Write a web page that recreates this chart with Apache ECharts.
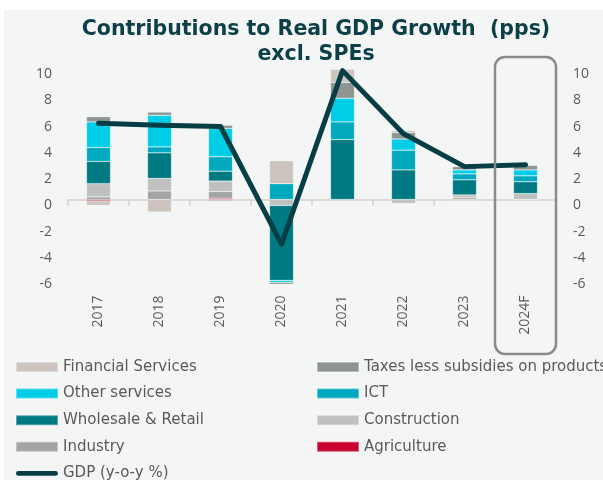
<!DOCTYPE html>
<html>
<head>
<meta charset="utf-8">
<script src="https://cdn.jsdelivr.net/npm/echarts@6/dist/echarts.min.js"></script>
<style>
  html, body { margin: 0; padding: 0; background: #ffffff; }
  #chart { width: 603px; height: 480px; }
</style>
</head>
<body>
<div id="chart"></div>
<script>
// Contributions to real GDP growth by sector, percentage points
const categories = ['2017', '2018', '2019', '2020', '2021', '2022', '2023', '2024F'];

const agriculture     = [-0.1, 0,     0.1,   0,     0,    0,     0,    0];
const industry        = [0.2,  0.65,  0.5,   0,     0,    0,     0.15, 0];
const construction    = [1.0,  0.95,  0.8,  -0.45,  0,   -0.3,   0.2,  0.45];
const wholesaleRetail = [1.7,  1.95,  0.75, -5.7,   4.55, 2.25,  1.15, 0.9];
const ict             = [1.05, 0.45,  1.1,   1.2,   1.35, 1.5,   0.45, 0.45];
const otherServices   = [1.95, 2.4,   2.15, -0.15,  1.8,  0.85,  0.3,  0.45];
const taxesLessSubs   = [0.4,  0.25,  0.25, -0.15,  1.2,  0.5,   0.25, 0.35];
const financial       = [-0.35,-0.95, -0.15, 1.75,  1.0,  0.15, -0.1,  0];

// Headline GDP growth, y-o-y %
const gdp = [5.8, 5.65, 5.55, -3.4, 9.8, 5.0, 2.5, 2.65];

const FONT = '"Open Sans", "Liberation Sans", sans-serif';
const LEGEND_FONT = '"DejaVu Sans", "Open Sans", sans-serif';
const LABEL_GREY = '#595959';

const sectors = [
  { name: 'Agriculture',                      data: agriculture,     color: '#c8002e' },
  { name: 'Industry',                         data: industry,        color: '#a4a4a4' },
  { name: 'Construction',                     data: construction,    color: '#bfc1be' },
  { name: 'Wholesale & Retail',               data: wholesaleRetail, color: '#007a82' },
  { name: 'ICT',                              data: ict,             color: '#00a9bd' },
  { name: 'Other services',                   data: otherServices,   color: '#00cee8' },
  { name: 'Taxes less subsidies on products', data: taxesLessSubs,   color: '#8f9591' },
  { name: 'Financial Services',               data: financial,       color: '#cdc4c0' }
];

const barSeries = sectors.map(s => ({
  name: s.name,
  type: 'bar',
  stack: 'sectors',
  xAxisIndex: 0,
  yAxisIndex: 0,
  barWidth: 24,
  clip: false,
  data: s.data,
  itemStyle: { color: s.color, borderColor: 'rgba(255,255,255,0.35)', borderWidth: 0.6 },
  emphasis: { disabled: true }
}));

const gdpSeries = {
  name: 'GDP (y-o-y %)',
  type: 'line',
  xAxisIndex: 0,
  yAxisIndex: 1,
  data: gdp,
  symbol: 'none',
  clip: false,
  z: 5,
  lineStyle: { color: '#073d45', width: 5, cap: 'round', join: 'round' },
  itemStyle: { color: '#073d45' },
  emphasis: { disabled: true }
};

const lineIcon = 'path://M2.5,0 H41.5 A2.5,2.5 0 0 1 41.5,5 H2.5 A2.5,2.5 0 0 1 2.5,0 Z';

const legendBase = {
  orient: 'vertical',
  top: 359.5,
  height: 200,
  padding: 0,
  itemWidth: 42,
  itemHeight: 10,
  itemGap: 11.6,
  icon: 'rect',
  selectedMode: false,
  textStyle: { color: LABEL_GREY, fontSize: 15, fontFamily: LEGEND_FONT }
};

const valueLabel = {
  verticalAlign: 'top',
  lineHeight: 12,
  color: LABEL_GREY,
  fontSize: 14,
  fontFamily: FONT
};

const yAxisBase = {
  type: 'value',
  min: -6,
  max: 10,
  interval: 2,
  splitLine: { show: false },
  axisLine: { show: false },
  axisTick: { show: false }
};

const chart = echarts.init(document.getElementById('chart'), null, { renderer: 'canvas' });

chart.setOption({
  backgroundColor: '#f4f6f5',
  animation: false,
  title: {
    text: 'Contributions to Real GDP Growth  (pps)\nexcl. SPEs',
    left: 311,
    top: 12,
    textAlign: 'center',
    textStyle: {
      color: '#0c3f47',
      fontSize: 20.5,
      fontWeight: 'bold',
      fontFamily: '"DejaVu Sans", sans-serif',
      lineHeight: 25
    }
  },
  grid: { left: 68, right: 47, top: 68, height: 210.4, containLabel: false },
  legend: [
    Object.assign({}, legendBase, {
      left: 15,
      data: [
        { name: 'Financial Services' },
        { name: 'Other services' },
        { name: 'Wholesale & Retail' },
        { name: 'Industry' },
        { name: 'GDP (y-o-y %)', icon: lineIcon }
      ]
    }),
    Object.assign({}, legendBase, {
      left: 316,
      data: [
        { name: 'Taxes less subsidies on products' },
        { name: 'ICT' },
        { name: 'Construction' },
        { name: 'Agriculture' }
      ]
    })
  ],
  xAxis: [
    {
      // category axis drawn through zero, ticks hanging below
      type: 'category',
      data: categories,
      axisLine: { onZero: true, lineStyle: { color: '#d6cfcb', width: 1.5 } },
      axisTick: { show: true, length: 6, lineStyle: { color: '#d6cfcb', width: 1.5 } },
      axisLabel: { show: false },
      splitLine: { show: false }
    },
    {
      // category labels sit at the foot of the plot
      type: 'category',
      data: categories,
      position: 'bottom',
      axisLine: { show: false, onZero: false },
      axisTick: { show: false },
      axisLabel: {
        rotate: 90,
        margin: 17,
        color: LABEL_GREY,
        fontSize: 14,
        fontFamily: FONT
      },
      splitLine: { show: false }
    },
    {
      // upward half of the crossing ticks
      type: 'category',
      data: categories,
      axisLine: { show: false, onZero: true },
      axisTick: { show: true, inside: true, length: 6, lineStyle: { color: '#d6cfcb', width: 1.5 } },
      axisLabel: { show: false },
      splitLine: { show: false }
    }
  ],
  yAxis: [
    Object.assign({}, yAxisBase, {
      position: 'left',
      axisLabel: Object.assign({ margin: 16 }, valueLabel)
    }),
    Object.assign({}, yAxisBase, {
      position: 'right',
      axisLabel: Object.assign({ margin: 17 }, valueLabel)
    })
  ],
  series: barSeries.concat([gdpSeries])
});

// Frame highlighting the forecast year, placed from the axis scales
const fx = chart.convertToPixel({ xAxisIndex: 0 }, '2024F');
const prev = chart.convertToPixel({ xAxisIndex: 0 }, '2023');
const catWidth = fx - prev;
const yTop = chart.convertToPixel({ yAxisIndex: 0 }, 10);
chart.setOption({
  graphic: [
    { type: 'rect', silent: true, z: 100,
      shape: { x: 0, y: 0, width: 603, height: 10 },
      style: { fill: '#ffffff' } },
    { type: 'rect', silent: true, z: 100,
      shape: { x: 0, y: 0, width: 4, height: 480 },
      style: { fill: '#ffffff' } },
    { type: 'rect', silent: true, z: 50,
      shape: { x: fx - catWidth / 2, y: yTop - 11, width: catWidth, height: 354 - (yTop - 11), r: 10 },
      style: { fill: 'none', stroke: '#8a8a8a', lineWidth: 2.5 } }
  ]
});
</script>
</body>
</html>
